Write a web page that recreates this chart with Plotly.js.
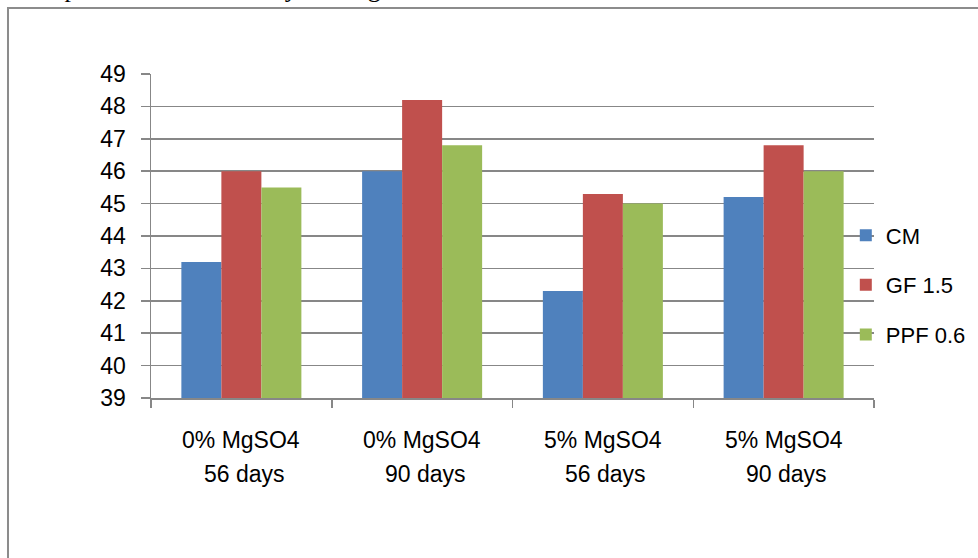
<!DOCTYPE html>
<html>
<head>
<meta charset="utf-8">
<script src="https://cdn.plot.ly/plotly-3.0.1.min.js"></script>
<style>html,body{margin:0;padding:0;background:#fff;}#chart{width:978px;height:558px;}</style>
</head>
<body>
<div id="chart"></div>
<script>
var categories = ["0% MgSO4\n56 days", "0% MgSO4\n90 days", "5% MgSO4\n56 days", "5% MgSO4\n90 days"];
var seriesNames = ["CM", "GF 1.5", "PPF 0.6"];
var cmValues = [43.2, 46.0, 42.3, 45.2];
var gfValues = [46.0, 48.2, 45.3, 46.8];
var ppfValues = [45.5, 46.8, 45.0, 46.0];
var yTicks = [39, 40, 41, 42, 43, 44, 45, 46, 47, 48, 49];
var topText = "re compared to CM at 56 days curing";

var colors = ["#4F81BD", "#C0504D", "#9BBB59"];
var allValues = [cmValues, gfValues, ppfValues];
var catIds = categories.map(function (c, i) { return "c" + i; });

var traces = allValues.map(function (vals, i) {
  return {
    type: "bar",
    name: seriesNames[i],
    x: catIds,
    y: vals.map(function (v) { return v - 39; }),
    base: 39,
    marker: { color: colors[i], line: { width: 0 } },
    legendgroup: "g" + i,
    hoverinfo: "none"
  };
});

var font = { family: "Liberation Sans, Arial, sans-serif", size: 22, color: "#000" };
var bigFont = { family: "Liberation Sans, Arial, sans-serif", size: 23, color: "#000" };
var annotations = [];
categories.forEach(function (c, i) {
  var lines = c.split("\n");
  annotations.push({ x: catIds[i], xref: "x", y: -0.13, yref: "paper", text: lines[0], showarrow: false, font: bigFont, xanchor: "center", yanchor: "middle" });
  annotations.push({ x: catIds[i], xref: "x", y: -0.235, yref: "paper", text: lines[1], showarrow: false, font: bigFont, xanchor: "center", yanchor: "middle", xshift: 3 });
});
annotations.push({
  x: -0.2089, xref: "paper", y: 1.2037, yref: "paper", xanchor: "left", yanchor: "bottom",
  text: topText, showarrow: false, xshift: -9, yshift: 3,
  font: { family: "Liberation Serif, Times New Roman, serif", size: 26, color: "#000" }
});

var layout = {
  width: 978, height: 558,
  margin: { l: 151, r: 104, t: 74, b: 160, pad: 0, autoexpand: false },
  paper_bgcolor: "#fff", plot_bgcolor: "#fff",
  barmode: "group", bargap: 0.336, bargroupgap: 0,
  showlegend: true,
  legend: {
    x: 0.961, xanchor: "left", y: 0.349, yanchor: "middle",
    font: font, tracegroupgap: 18, bgcolor: "rgba(0,0,0,0)"
  },
  xaxis: {
    type: "category", showticklabels: false, tickson: "boundaries",
    ticks: "outside", ticklen: 8, tickwidth: 1.5, tickcolor: "#878787",
    showline: true, linecolor: "#878787", linewidth: 1.5,
    showgrid: false, zeroline: false, fixedrange: true
  },
  yaxis: {
    range: [39, 49], tickvals: yTicks, ticktext: yTicks.map(String),
    ticks: "outside", ticklen: 9, tickwidth: 1.5, tickcolor: "#878787",
    showline: true, linecolor: "#878787", linewidth: 1.5,
    showgrid: true, gridcolor: "#878787", gridwidth: 1.5,
    zeroline: false, tickfont: bigFont, ticklabelstandoff: 10, fixedrange: true
  },
  shapes: [{
    type: "rect", xref: "paper", yref: "paper",
    x0: -0.1978, x1: 1.15, y0: -0.55, y1: 1.2037,
    line: { color: "#8c8c8c", width: 2 }, fillcolor: "rgba(0,0,0,0)", layer: "below"
  }],
  annotations: annotations
};

Plotly.newPlot("chart", traces, layout, { displayModeBar: false, staticPlot: true });
</script>
</body>
</html>
